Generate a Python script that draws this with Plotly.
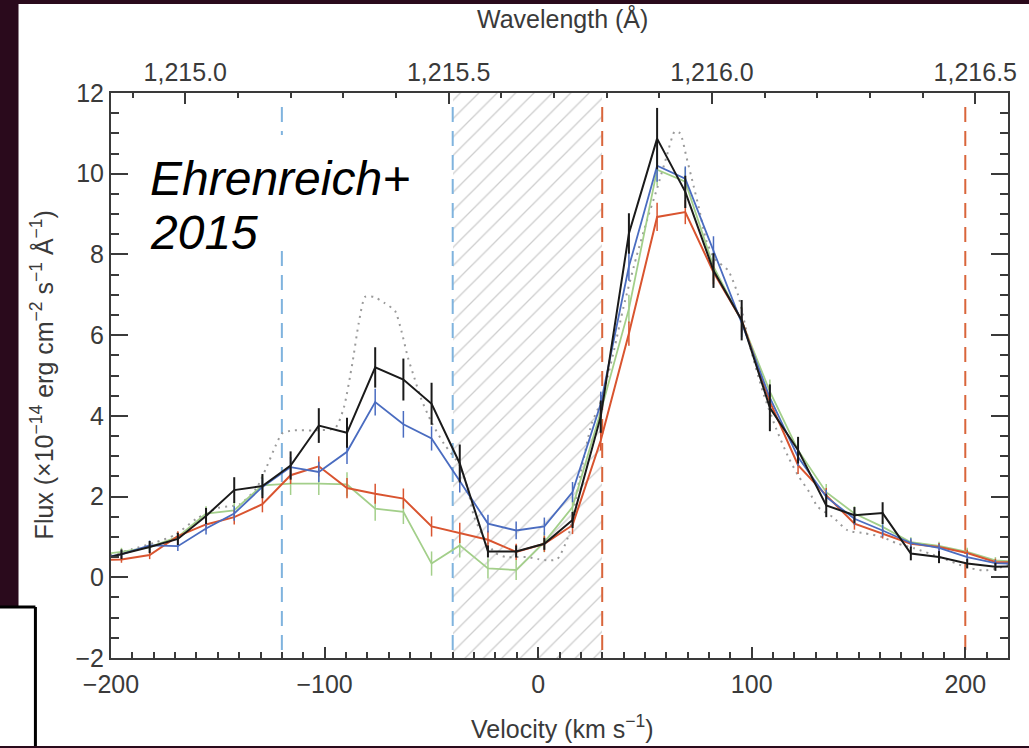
import plotly.graph_objects as go

# ---------------- data ----------------
velocity = [-208.3, -195.1, -181.9, -168.7, -155.5, -142.3, -129.1, -115.9, -102.7, -89.5,
            -76.3, -63.1, -49.9, -36.7, -23.5, -10.3, 2.9, 16.1, 29.3, 42.5,
            55.7, 68.9, 82.1, 95.3, 108.5, 121.7, 134.9, 148.1, 161.3, 174.5,
            187.7, 200.9, 214.1, 227.3]

flux_black = [0.40, 0.57, 0.75, 0.95, 1.52, 2.16, 2.26, 2.77, 3.76, 3.58,
              5.20, 4.90, 4.30, 2.82, 0.64, 0.64, 0.83, 1.42, 3.98, 8.52,
              10.87, 9.55, 7.60, 6.37, 4.20, 3.15, 1.78, 1.54, 1.59, 0.59,
              0.50, 0.34, 0.26, 0.28]
err_black = [0.10, 0.12, 0.15, 0.15, 0.20, 0.32, 0.30, 0.35, 0.43, 0.37,
             0.50, 0.52, 0.52, 0.47, 0.15, 0.15, 0.15, 0.20, 0.40, 0.50,
             0.76, 0.40, 0.43, 0.50, 0.58, 0.33, 0.29, 0.20, 0.27, 0.17,
             0.15, 0.12, 0.10, 0.10]

flux_blue = [0.45, 0.57, 0.79, 0.77, 1.21, 1.58, 2.24, 2.73, 2.61, 3.11,
             4.34, 3.79, 3.44, 2.40, 1.33, 1.16, 1.26, 2.11, 4.30, 7.70,
             10.20, 9.88, 8.10, 6.30, 4.45, 2.98, 1.99, 1.45, 1.16, 0.85,
             0.73, 0.50, 0.35, 0.33]
err_blue = [0.08, 0.10, 0.12, 0.12, 0.15, 0.18, 0.22, 0.25, 0.25, 0.30,
            0.33, 0.33, 0.30, 0.30, 0.22, 0.22, 0.22, 0.25, 0.30, 0.35,
            0.40, 0.30, 0.35, 0.35, 0.30, 0.22, 0.18, 0.15, 0.15, 0.12,
            0.10, 0.10, 0.08, 0.08]

flux_green = [0.55, 0.63, 0.75, 1.00, 1.58, 1.66, 2.28, 2.32, 2.32, 2.30,
              1.70, 1.62, 0.34, 0.79, 0.22, 0.18, 0.87, 1.74, 4.10, 6.65,
              10.10, 9.80, 7.70, 6.35, 4.60, 3.15, 2.11, 1.58, 1.25, 0.87,
              0.78, 0.63, 0.42, 0.38]
err_green = [0.08, 0.10, 0.12, 0.12, 0.18, 0.20, 0.25, 0.28, 0.28, 0.30,
             0.30, 0.30, 0.30, 0.30, 0.25, 0.25, 0.25, 0.25, 0.30, 0.35,
             0.40, 0.35, 0.35, 0.35, 0.30, 0.25, 0.20, 0.18, 0.15, 0.12,
             0.10, 0.10, 0.08, 0.08]

flux_red = [0.42, 0.44, 0.55, 1.02, 1.31, 1.49, 1.81, 2.53, 2.75, 2.21,
            2.07, 1.95, 1.26, 1.10, 0.93, 0.63, 0.83, 1.29, 3.39, 6.04,
            8.93, 9.05, 7.56, 6.37, 4.35, 2.78, 2.03, 1.33, 1.08, 0.83,
            0.75, 0.60, 0.38, 0.36]
err_red = [0.07, 0.08, 0.10, 0.12, 0.15, 0.18, 0.20, 0.22, 0.25, 0.25,
           0.25, 0.25, 0.25, 0.25, 0.22, 0.20, 0.20, 0.22, 0.25, 0.30,
           0.35, 0.30, 0.30, 0.30, 0.25, 0.22, 0.18, 0.15, 0.12, 0.10,
           0.10, 0.08, 0.08, 0.08]

model_v = [-210, -200, -190, -180, -170, -160, -150, -140, -132, -127, -123, -120, -115,
           -105, -95, -91, -87, -84, -81, -77, -72, -67, -64, -61, -58, -55, -50, -44,
           -37, -33, -30, -25, -20, -15, -10, -5, 0, 5, 9, 14, 20, 25, 29, 31.5, 35.5,
           40, 46, 51, 55.5, 60, 64, 66.5, 69.5, 72.5, 75.5, 78.7, 82.5, 89, 93.6, 98.8,
           105.2, 111.3, 117.4, 122, 127, 131, 138, 145, 153, 161, 168, 176, 188, 200,
           208, 215, 222]
model_f = [0.50, 0.55, 0.70, 0.85, 1.05, 1.45, 1.72, 1.80, 2.20, 2.75, 3.25, 3.56, 3.64,
           3.64, 3.70, 4.20, 5.30, 6.30, 6.95, 6.95, 6.80, 6.60, 6.10, 5.45, 4.95, 4.45, 3.85, 3.30,
           2.80, 2.20, 1.50, 0.95, 0.60, 0.50, 0.50, 0.50, 0.45, 0.42, 0.45, 1.00, 2.60, 3.80, 4.30, 4.75, 5.62,
           6.70, 7.94, 8.85, 9.60, 10.40, 11.05, 11.00, 10.40, 9.76, 9.10, 8.35, 7.90, 7.60, 7.00, 5.80,
           4.60, 3.70, 2.95, 2.50, 2.11, 1.74, 1.49, 1.16, 1.09, 1.00, 0.84, 0.72, 0.50, 0.26,
           0.17, 0.22, 0.34]

blue_lines = [-120, -40]
red_lines = [30, 200]
hatch_range = [-40, 30]

wl_ticks = [1215.0, 1215.5, 1216.0, 1216.5]
lam0 = 1215.67
c_kms = 299792.458

x_range = [-200, 220]
y_range = [-2, 12]

# ---------------- styling ----------------
FONT = "Liberation Sans, Arial, sans-serif"
AX = "#3a3a3a"
C_BLACK = "#1a1a1a"
C_BLUE = "#4a6cc0"
C_GREEN = "#a3cf8a"
C_RED = "#d9542f"
C_MODEL = "#9a9a9a"
C_DBLUE = "#7fb3de"
C_DRED = "#d9653b"

W, H = 1029, 748
L, R, T, B = 111, 16, 93, 90
PW, PH = W - L - R, H - T - B


def px(xp):
    return (xp - L) / PW


def py(yp):
    return (T + PH - yp) / PH


fig = go.Figure()

# hatched region
fig.add_trace(go.Bar(
    x=[(hatch_range[0] + hatch_range[1]) / 2], y=[y_range[1] - y_range[0]], base=[y_range[0]],
    width=[hatch_range[1] - hatch_range[0]],
    marker=dict(color="white", line=dict(width=0),
                pattern=dict(shape="/", size=13, solidity=0.1, fgcolor="#9c9c9c", bgcolor="white")),
    showlegend=False, hoverinfo="skip"))

# dashed vertical lines
for v in blue_lines:
    fig.add_trace(go.Scatter(x=[v, v], y=[11.65, y_range[0]], mode="lines",
                             line=dict(color=C_DBLUE, width=2, dash="15px,9px"),
                             showlegend=False, hoverinfo="skip"))
for v in red_lines:
    fig.add_trace(go.Scatter(x=[v, v], y=[11.65, y_range[0]], mode="lines",
                             line=dict(color=C_DRED, width=2, dash="15px,9px"),
                             showlegend=False, hoverinfo="skip"))

# model
fig.add_trace(go.Scatter(x=model_v, y=model_f, mode="lines",
                         line=dict(color=C_MODEL, width=2, dash="2px,5px", shape="spline", smoothing=0.6),
                         showlegend=False))


def series(y, err, color, width, ethick):
    return go.Scatter(x=velocity, y=y, mode="lines",
                      line=dict(color=color, width=width),
                      error_y=dict(type="data", array=err, width=0, thickness=ethick, color=color),
                      showlegend=False)


fig.add_trace(series(flux_green, err_green, C_GREEN, 1.8, 1.5))
fig.add_trace(series(flux_red, err_red, C_RED, 2.0, 1.5))
fig.add_trace(series(flux_blue, err_blue, C_BLUE, 1.8, 1.5))
fig.add_trace(series(flux_black, err_black, C_BLACK, 2.0, 2.0))

# invisible trace for the wavelength axis
fig.add_trace(go.Scatter(x=[lam0 * (1 + v / c_kms) for v in velocity], y=flux_black,
                         xaxis="x2", mode="lines", line=dict(width=0), opacity=0,
                         showlegend=False, hoverinfo="skip"))

tickfont = dict(family=FONT, size=25, color=AX)

fig.update_layout(
    width=W, height=H, autosize=False,
    margin=dict(l=L, r=R, t=T, b=B, pad=0),
    paper_bgcolor="#2a0a1c", plot_bgcolor="white",
    font=dict(family=FONT, color=AX),
    xaxis=dict(range=x_range, showgrid=False, zeroline=False, showline=True,
               linecolor=AX, linewidth=2, ticks="inside", ticklen=11, tickwidth=2, tickcolor=AX,
               tick0=0, dtick=100, tickfont=tickfont, ticklabelstandoff=3,
               minor=dict(dtick=10, ticklen=6, tickwidth=2, tickcolor=AX, ticks="inside", showgrid=False)),
    xaxis2=dict(overlaying="x", side="top", anchor="y",
                range=[lam0 * (1 + x_range[0] / c_kms), lam0 * (1 + x_range[1] / c_kms)],
                showgrid=False, zeroline=False, showline=True, linecolor=AX, linewidth=2,
                ticks="inside", ticklen=11, tickwidth=2, tickcolor=AX,
                tickmode="array", tickvals=wl_ticks, ticktext=[f"{t:,.1f}" for t in wl_ticks],
                tickfont=tickfont,
                minor=dict(tick0=1215.0, dtick=0.1, ticklen=5, tickwidth=2, tickcolor=AX, ticks="inside", showgrid=False)),
    yaxis=dict(range=y_range, showgrid=False, zeroline=False, showline=True, mirror="ticks",
               linecolor=AX, linewidth=2, ticks="inside", ticklen=17, tickwidth=2, tickcolor=AX,
               tick0=0, dtick=2, tickfont=tickfont,
               minor=dict(dtick=0.5, ticklen=8, tickwidth=2, tickcolor=AX, ticks="inside", showgrid=False)),
    bargap=0,
)

shapes = [
    # white panel
    dict(type="rect", xref="paper", yref="paper", x0=px(18), x1=px(1035), y0=py(746), y1=py(4),
         fillcolor="white", line=dict(width=0), layer="below"),
    # bottom-left box
    dict(type="rect", xref="paper", yref="paper", x0=px(-5), x1=px(35), y0=py(746), y1=py(607),
         fillcolor="white", line=dict(width=0), layer="below"),
    dict(type="line", xref="paper", yref="paper", x0=px(-5), x1=px(35), y0=py(607), y1=py(607),
         line=dict(color="black", width=3), layer="above"),
    dict(type="line", xref="paper", yref="paper", x0=px(35), x1=px(35), y0=py(607), y1=py(746),
         line=dict(color="black", width=3), layer="above"),
    # white box behind the label
    dict(type="rect", xref="paper", yref="paper", x0=px(140), x1=px(420), y0=py(243), y1=py(135),
         fillcolor="white", line=dict(width=0), layer="above"),
]
fig.update_layout(shapes=shapes)

ann = [
    dict(text="Wavelength (Å)", x=px(565), y=py(18), xref="paper", yref="paper",
         xanchor="center", yanchor="middle", showarrow=False, font=dict(family=FONT, size=25, color=AX)),
    dict(text="Velocity (km s<sup>−1</sup>)", x=px(565), y=py(727), xref="paper", yref="paper",
         xanchor="center", yanchor="middle", showarrow=False, font=dict(family=FONT, size=25, color=AX)),
    dict(text="Flux (×10<sup>−14</sup> erg cm<sup>−2</sup> s<sup>−1</sup> Å<sup>−1</sup>)",
         x=px(42), y=py(375), xref="paper", yref="paper", textangle=-90,
         xanchor="center", yanchor="middle", showarrow=False, font=dict(family=FONT, size=25, color=AX)),
    dict(text="<i>Ehrenreich+</i>", x=px(148), y=py(178), xref="paper", yref="paper",
         xanchor="left", yanchor="middle", showarrow=False, font=dict(family=FONT, size=48, color="black")),
    dict(text="<i>2015</i>", x=px(148), y=py(232), xref="paper", yref="paper",
         xanchor="left", yanchor="middle", showarrow=False, font=dict(family=FONT, size=48, color="black")),
]
fig.update_layout(annotations=ann)

fig.write_html("out.html")
